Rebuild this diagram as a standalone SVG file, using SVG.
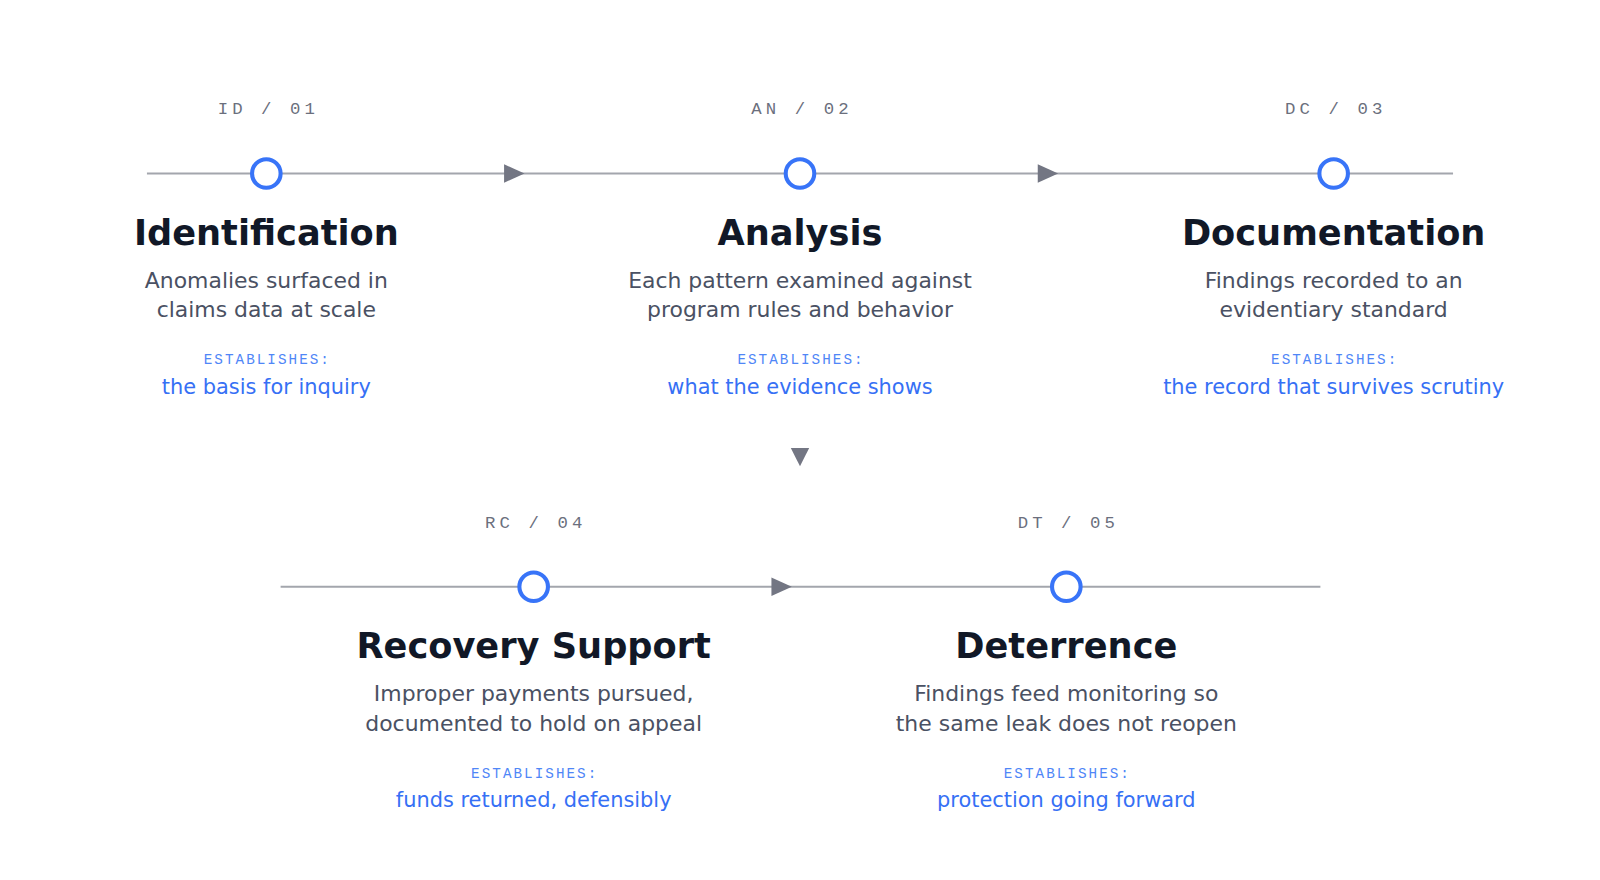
<svg xmlns="http://www.w3.org/2000/svg" width="1600" height="880" viewBox="0 0 1600 880">
<style>
.line{stroke:#a3a6ad;stroke-width:2}
.arr{fill:#737683}
.dot{fill:#fff;stroke:#3874f8;stroke-width:4}
.code{font-family:"Courier New","Liberation Mono",monospace;font-size:17px;letter-spacing:4px;fill:#6b6f7d;text-anchor:middle}
.title{font-family:"DejaVu Sans",sans-serif;font-size:34.5px;font-weight:bold;fill:#111827;text-anchor:middle}
.desc{font-family:"DejaVu Sans",sans-serif;font-size:21.5px;fill:#4a5163;text-anchor:middle}
.est{font-family:"Courier New","Liberation Mono",monospace;font-size:14px;letter-spacing:2px;fill:#4f86f7;text-anchor:middle}
.out{font-family:"DejaVu Sans",sans-serif;font-size:20.5px;fill:#3670f5;text-anchor:middle}
</style>
<rect width="1600" height="880" fill="#fff"/>
<g transform="scale(1.0204)">
<g id="connectors">
<line class="line" x1="144" y1="170" x2="1424" y2="170"/>
<line class="line" x1="275" y1="575" x2="1294" y2="575"/>
<polygon class="arr" points="494,161 514,170 494,179"/>
<polygon class="arr" points="1017,161 1037,170 1017,179"/>
<polygon class="arr" points="756,566 776,575 756,584"/>
<polygon class="arr" points="775,439 793,439 784,457"/>
</g>
<g id="n1">
<circle class="dot" cx="261" cy="170" r="14"/>
<text class="code" x="263" y="112">ID / 01</text>
<text class="title" x="261" y="240">Identification</text>
<text class="desc" x="261" y="282">Anomalies surfaced in</text>
<text class="desc" x="261" y="311">claims data at scale</text>
<text class="est" x="262" y="357">ESTABLISHES:</text>
<text class="out" x="261" y="386">the basis for inquiry</text>
</g>
<g id="n2">
<circle class="dot" cx="784" cy="170" r="14"/>
<text class="code" x="786" y="112">AN / 02</text>
<text class="title" x="784" y="240">Analysis</text>
<text class="desc" x="784" y="282">Each pattern examined against</text>
<text class="desc" x="784" y="311">program rules and behavior</text>
<text class="est" x="785" y="357">ESTABLISHES:</text>
<text class="out" x="784" y="386">what the evidence shows</text>
</g>
<g id="n3">
<circle class="dot" cx="1307" cy="170" r="14"/>
<text class="code" x="1309" y="112">DC / 03</text>
<text class="title" x="1307" y="240">Documentation</text>
<text class="desc" x="1307" y="282">Findings recorded to an</text>
<text class="desc" x="1307" y="311">evidentiary standard</text>
<text class="est" x="1308" y="357">ESTABLISHES:</text>
<text class="out" x="1307" y="386">the record that survives scrutiny</text>
</g>
<g id="n4">
<circle class="dot" cx="523" cy="575" r="14"/>
<text class="code" x="525" y="517">RC / 04</text>
<text class="title" x="523" y="645">Recovery Support</text>
<text class="desc" x="523" y="687">Improper payments pursued,</text>
<text class="desc" x="523" y="716">documented to hold on appeal</text>
<text class="est" x="524" y="762">ESTABLISHES:</text>
<text class="out" x="523" y="791">funds returned, defensibly</text>
</g>
<g id="n5">
<circle class="dot" cx="1045" cy="575" r="14"/>
<text class="code" x="1047" y="517">DT / 05</text>
<text class="title" x="1045" y="645">Deterrence</text>
<text class="desc" x="1045" y="687">Findings feed monitoring so</text>
<text class="desc" x="1045" y="716">the same leak does not reopen</text>
<text class="est" x="1046" y="762">ESTABLISHES:</text>
<text class="out" x="1045" y="791">protection going forward</text>
</g>
</g>
</svg>
